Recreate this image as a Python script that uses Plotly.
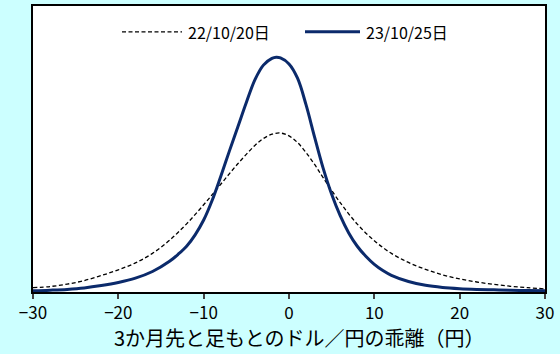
import plotly.graph_objects as go

# x grid (yen deviation) and density readings (arbitrary units)
x_old = [-30, -28, -26, -24, -22, -20, -18, -16, -14, -12, -10, -8, -6, -4, -3, -2, -1, 0, 1, 2, 3, 4, 6, 8, 10, 12, 14, 16, 18, 20, 22, 24, 26, 28, 30]
y_old = [0.18, 0.23, 0.33, 0.48, 0.69, 0.93, 1.22, 1.62, 2.17, 2.86, 3.66, 4.52, 5.38, 6.15, 6.44, 6.62, 6.67, 6.55, 6.27, 5.85, 5.35, 4.80, 3.75, 2.85, 2.15, 1.62, 1.24, 0.95, 0.72, 0.55, 0.42, 0.32, 0.24, 0.18, 0.13]

x_new = [-30, -28, -26, -24, -22, -20, -18, -16, -14, -13, -12, -11, -10, -9, -8, -7, -6, -5, -4, -3, -2, -1.5, -1, 0, 1, 2, 3, 4, 5, 6, 7, 8, 9, 10, 11, 12, 14, 16, 18, 20, 22, 24, 26, 28, 30]
y_new = [0.05, 0.075, 0.11, 0.17, 0.27, 0.40, 0.58, 0.86, 1.29, 1.58, 1.92, 2.40, 3.02, 3.85, 4.85, 5.90, 6.92, 7.95, 8.90, 9.52, 9.80, 9.85, 9.82, 9.57, 8.97, 7.85, 6.50, 5.20, 4.10, 3.20, 2.48, 1.92, 1.50, 1.16, 0.90, 0.70, 0.44, 0.28, 0.19, 0.14, 0.11, 0.09, 0.07, 0.06, 0.05]

name_old = "22/10/20日"
name_new = "23/10/25日"
x_ticks = [-30, -20, -10, 0, 10, 20, 30]

FONT = "Noto Sans CJK JP"
NAVY = "#0b2a6b"

fig = go.Figure()
fig.add_trace(go.Scatter(x=x_old, y=y_old, mode="lines", name=name_old, showlegend=False,
                         line=dict(color="black", width=1.3, dash="4px,2.5px", shape="spline", smoothing=1.0)))
fig.add_trace(go.Scatter(x=x_new, y=y_new, mode="lines", name=name_new, showlegend=False,
                         line=dict(color=NAVY, width=3, shape="spline", smoothing=1.0)))

# plot-area geometry in pixels (for placing legend/labels in paper coords)
L, T, W, H = 33, 4, 512, 288
def px(xp):
    return (xp - L) / W
def py(yp):
    return (T + H - yp) / H

leg_y = py(30)
shapes = [
    dict(type="line", xref="paper", yref="paper", x0=px(122), x1=px(182), y0=leg_y, y1=leg_y,
         line=dict(color="black", width=1.3, dash="4px,2.5px")),
    dict(type="line", xref="paper", yref="paper", x0=px(305), x1=px(360), y0=leg_y, y1=leg_y,
         line=dict(color=NAVY, width=3)),
]

fig.update_layout(
    width=560, height=354,
    margin=dict(l=L, r=560 - L - W, t=T, b=354 - T - H),
    paper_bgcolor="#CCFFFF",
    plot_bgcolor="white",
    font=dict(family=FONT, size=16, color="black"),
    showlegend=False,
    shapes=shapes,
    xaxis=dict(range=[-30, 30], tickvals=x_ticks, ticks="outside", ticklen=5, tickwidth=1.5,
               showline=True, linecolor="black", linewidth=1.5, mirror=True,
               showgrid=False, zeroline=False, tickfont=dict(size=17)),
    yaxis=dict(range=[0, 12], showticklabels=False, ticks="", showgrid=False, zeroline=False,
               showline=True, linecolor="black", linewidth=1.5, mirror=True),
    annotations=[
        dict(text=name_old, xref="paper", yref="paper", x=px(186), y=leg_y, xanchor="left",
             yanchor="middle", showarrow=False, font=dict(size=16)),
        dict(text=name_new, xref="paper", yref="paper", x=px(364), y=leg_y, xanchor="left",
             yanchor="middle", showarrow=False, font=dict(size=16)),
        dict(text="3か月先と足もとのドル／円の乖離（円）", xref="paper", yref="paper",
             x=px(299), y=0, yshift=-45, xanchor="center", yanchor="middle",
             showarrow=False, font=dict(size=20)),
        dict(text="（確率密度）", xref="paper", yref="paper", x=px(45), y=1,
             yshift=1, xanchor="left", yanchor="bottom", showarrow=False, font=dict(size=16)),
    ],
)

fig.write_html("out.html")
